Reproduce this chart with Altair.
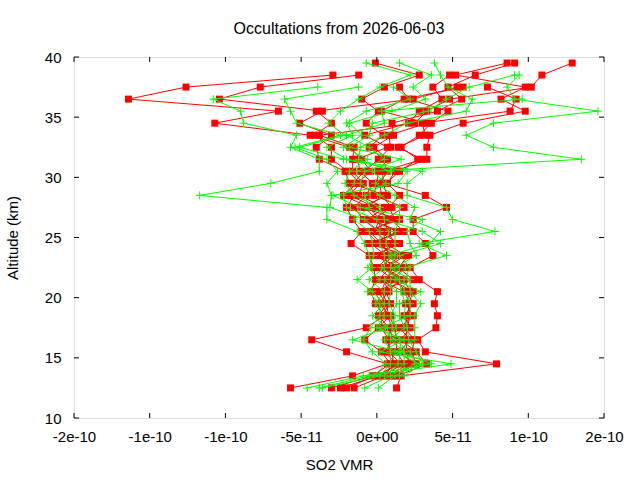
import altair as alt
import pandas as pd

# Altitude grid (km)
altitudes = [12.5, 13.5, 14.5, 15.5, 16.5, 17.5, 18.5, 19.5, 20.5, 21.5,
             22.5, 23.5, 24.5, 25.5, 26.5, 27.5, 28.5, 29.5, 30.5, 31.5,
             32.5, 33.5, 34.5, 35.5, 36.5, 37.5, 38.5, 39.5]

# SO2 VMR in units of 1e-11; one row per altitude, one column per profile
N = None
red_rows = [
    [-2.4, -5.7, N, 1.3, -3.0, N, -1.5, N, -2.0, N, N],            # 12.5
    [0.1, -1.6, 1.0, 1.6, -0.3, 1.4, 0.5, 1.2, -0.1, 0.8, 0.3],     # 13.5
    [1.3, 0.7, 2.4, 7.9, 0.9, 3.3, 1.1, 2.6, 1.6, 2.1, 1.8],        # 14.5
    [0.5, -2.0, 1.5, 3.2, 0.3, 2.6, 1.0, 2.3, 0.8, 2.0, 1.3],       # 15.5
    [1.1, -4.3, 2.2, 2.7, -0.8, 1.6, 0.6, 2.5, 0.8, 1.9, 1.3],      # 16.5
    [0.8, -0.7, 1.5, 3.9, 0.1, 2.2, 1.0, 1.8, 0.3, 2.0, 1.2],       # 17.5
    [0.1, 0.5, 2.4, 4.0, 0.9, 1.8, 0.7, 2.0, 0.3, 2.2, 0.8],        # 18.5
    [0.7, -0.1, 1.9, 3.8, 0.1, 2.4, 0.4, 2.2, 0.9, 2.1, 0.6],       # 19.5
    [0.3, -0.4, 2.2, 4.0, 0.8, 2.0, -0.2, 1.8, 0.6, 2.4, 0.1],      # 20.5
    [0.6, -0.1, 1.8, 2.8, 0.4, 1.1, 2.4, 0.1, 1.6, 0.9, 1.4],       # 21.5
    [1.1, -0.2, 0.5, 2.2, 1.6, 0.0, 1.4, 0.9, 0.3, 1.9, 0.6],       # 22.5
    [0.3, -0.5, 1.6, 3.7, -0.2, 0.9, 2.1, 0.1, 1.1, 0.6, 1.9],      # 23.5
    [0.9, -1.7, -0.1, 3.2, 1.5, 0.3, -0.6, 1.2, 0.1, -0.4, 0.6],    # 24.5
    [-0.2, -1.0, 1.3, 2.4, 0.1, -0.5, 1.8, 0.7, -0.7, 1.6, 0.4],    # 25.5
    [0.2, -1.6, -0.3, 2.4, -0.9, 1.2, 0.9, 0.5, 1.5, -0.6, 0.0],    # 26.5
    [-0.5, -2.0, 1.0, 4.6, -1.5, 0.8, -0.1, 1.8, -1.0, 0.5, -0.8],  # 27.5
    [-2.2, -1.5, 0.3, 3.2, -0.7, 1.5, -1.8, -0.2, 0.7, -1.2, 0.5],  # 28.5
    [-1.3, -1.8, 0.2, 0.6, -0.3, 0.7, -1.1, 0.0, 0.4, -0.9, -1.6],  # 29.5
    [-0.4, -2.1, 0.7, 1.5, -1.1, 1.2, -1.9, 0.1, 0.4, -1.6, -0.8],  # 30.5
    [-1.0, -3.8, 0.4, 2.7, -1.3, 3.3, -3.0, 0.7, 3.0, -1.6, 0.1],   # 31.5
    [-1.8, -4.0, -0.5, 1.6, 0.7, 3.3, -3.0, -0.2, 1.4, -1.5, 0.9],  # 32.5
    [-4.4, -3.0, 0.4, 2.8, -0.8, 3.5, -4.1, 1.1, 3.2, -3.8, 0.8],   # 33.5
    [-10.7, -5.1, -0.7, 3.6, 2.1, 5.7, -3.0, 1.0, 3.0, 2.5, 3.3],   # 34.5
    [-6.5, -3.6, 0.1, 4.7, 2.8, 9.8, -4.0, 4.0, 8.8, 3.3, 0.3],     # 35.5
    [-16.4, -10.4, -1.0, 2.1, 4.3, 8.2, 2.4, 5.6, 9.2, 4.8, 1.8],   # 36.5
    [-12.6, -7.7, 0.5, 1.5, 3.7, 9.8, 5.3, 4.7, 7.3, 10.2, 5.7],    # 37.5
    [-2.9, -1.2, 2.8, N, 4.8, 5.2, N, 6.5, N, 10.9, N],             # 38.5
    [N, N, -0.1, N, N, 8.6, N, 9.1, N, 12.9, N],                    # 39.5
]

green_rows = [
    [-4.6, -3.8, -3.6, -0.8, 0.1, N, N, N, N],         # 12.5
    [-0.9, -0.5, 0.2, 0.9, 1.2, 1.5, 0.5, -0.2, 1.8],  # 13.5
    [3.6, 4.9, 0.9, 1.8, 2.5, 2.8, 1.4, 0.6, 3.0],     # 14.5
    [1.5, 0.2, 0.9, 1.8, 2.2, 1.2, 1.6, -0.3, 2.6],    # 15.5
    [-1.6, 1.8, 0.5, 0.9, 1.2, 2.5, 1.5, -0.9, 2.1],   # 16.5
    [0.7, 0.0, 1.3, 1.8, 0.2, 2.5, 1.0, -0.4, 2.0],    # 17.5
    [-0.3, 0.5, 0.9, 1.5, 2.2, 2.5, 1.2, 0.2, 1.8],    # 18.5
    [0.5, -0.1, 1.3, 1.5, 2.2, 2.9, 0.8, 0.2, 1.9],    # 19.5
    [-0.3, 0.5, 1.3, 2.9, 1.8, 2.2, 0.9, -0.6, 1.6],   # 20.5
    [-1.3, -0.5, 0.5, 1.2, 1.8, 2.2, 0.9, 0.2, 1.5],   # 21.5
    [-0.3, 0.5, 1.2, 1.9, 2.2, 0.9, 1.5, -0.6, 0.3],   # 22.5
    [-0.5, 0.5, 2.6, 4.6, 1.5, 1.2, 0.8, -0.2, 1.0],   # 23.5
    [-0.8, 0.2, 2.2, 2.8, 4.2, 1.2, 3.5, -0.3, 0.6],   # 24.5
    [-1.3, 0.2, 2.0, 7.8, 3.0, 1.2, 4.2, -0.5, 0.8],   # 25.5
    [-3.3, -0.8, 3.0, 5.0, 0.5, 1.5, 2.2, -1.5, 0.0],  # 26.5
    [-3.3, -3.1, -1.1, 4.6, 0.2, 1.5, 2.5, -0.5, -2.0],  # 27.5
    [-11.7, -3.0, -2.9, 2.0, -1.5, 0.2, 1.2, -0.8, -2.2],  # 28.5
    [-7.0, -3.3, 1.4, 2.0, -2.1, -1.1, -0.1, 0.6, -1.5],   # 29.5
    [-3.8, -2.6, 2.0, 3.0, -1.8, -0.8, 0.9, -0.3, -1.3],   # 30.5
    [-3.8, -3.3, -2.2, -2.0, -0.6, 1.6, -1.2, 13.5, 0.5],  # 31.5
    [-5.7, -5.4, -5.1, -3.3, -2.2, -1.8, -1.1, 7.7, -0.5], # 32.5
    [-5.3, -2.4, -2.1, -1.6, -1.0, -0.5, 0.5, 5.9, -2.0],  # 33.5
    [-8.8, -5.3, -3.2, -2.0, -1.8, -0.3, 2.0, 7.7, 0.5],   # 34.5
    [-9.0, -5.7, -2.4, -0.7, 1.0, 3.4, 5.9, 14.6, 0.3],    # 35.5
    [-10.8, -6.1, -1.2, 2.2, 3.2, 4.6, 6.3, 9.1, 9.6],     # 36.5
    [-3.9, -1.2, 0.2, 1.1, 2.4, 6.1, 4.7, 8.6, N],         # 37.5
    [N, N, 2.2, N, 3.6, 9.1, 4.2, 9.4, N],                 # 38.5
    [N, N, -0.7, N, 1.5, N, 3.8, N, N],                    # 39.5
]

x_tick_values = [-20, -15, -10, -5, 0, 5, 10, 15]
x_tick_labels = ["-2e-10", "-1e-10", "-1e-10", "-5e-11", "0e+00", "5e-11", "1e-10", "2e-10"]
y_tick_values = [10, 15, 20, 25, 30, 35, 40]

title_text = "Occultations from 2026-06-03"
x_title = "SO2 VMR"
y_title = "Altitude (km)"


def to_long(rows, series):
    recs = []
    for a, row in zip(altitudes, rows):
        for p, v in enumerate(row):
            if v is not None:
                recs.append({"profile": f"{series}{p}", "alt": a, "vmr": v})
    return pd.DataFrame(recs)


red_df = to_long(red_rows, "r")
green_df = to_long(green_rows, "g")
xt_df = pd.DataFrame({"vmr": x_tick_values})
yt_df = pd.DataFrame({"alt": y_tick_values})

W, H = 530, 361
FONT = "Liberation Sans"
FS = 15

label_expr = " : ".join(
    f"datum.value == {v} ? '{l}'" for v, l in zip(x_tick_values, x_tick_labels)
) + " : ''"

xs = alt.Scale(domain=[-20, 15], nice=False, zero=False)
ys = alt.Scale(domain=[10, 40], nice=False, zero=False)

x_axis = alt.Axis(values=x_tick_values, labelExpr=label_expr, ticks=False,
                  domain=False, grid=False, labelPadding=11, title=x_title,
                  titlePadding=13, labelFont=FONT, labelFontSize=FS,
                  titleFont=FONT, titleFontSize=FS, titleFontWeight="normal",
                  labelColor="black", titleColor="black", labelFlush=False)
y_axis = alt.Axis(values=y_tick_values, ticks=False, domain=False, grid=False,
                  labelPadding=13, title=y_title, titlePadding=24,
                  labelFont=FONT, labelFontSize=FS, titleFont=FONT,
                  titleFontSize=FS, titleFontWeight="normal",
                  labelColor="black", titleColor="black", labelFlush=False)

X = alt.X("vmr:Q", scale=xs, axis=x_axis)
Y = alt.Y("alt:Q", scale=ys, axis=y_axis)

red_line = alt.Chart(red_df).mark_line(color="#ff0000", strokeWidth=1).encode(
    x=X, y=Y, detail="profile:N", order="alt:Q")
red_pts = alt.Chart(red_df).mark_point(
    shape="square", filled=True, size=49, color="#ff0000", opacity=1
).encode(x=X, y=Y)
green_line = alt.Chart(green_df).mark_line(color="#00ff00", strokeWidth=1).encode(
    x=X, y=Y, detail="profile:N", order="alt:Q")
green_pts = alt.Chart(green_df).mark_point(
    shape="M-1,0L1,0M0,-1L0,1", filled=False, size=64, color="#00ff00",
    strokeWidth=1, opacity=1
).encode(x=X, y=Y)

tick_len = 5
bottom_ticks = alt.Chart(xt_df).mark_rule(color="black", strokeWidth=1).encode(
    x=X, y=alt.value(H), y2=alt.value(H - tick_len))
top_ticks = alt.Chart(xt_df).mark_rule(color="black", strokeWidth=1).encode(
    x=X, y=alt.value(0), y2=alt.value(tick_len))
left_ticks = alt.Chart(yt_df).mark_rule(color="black", strokeWidth=1).encode(
    y=Y, x=alt.value(0), x2=alt.value(tick_len))
right_ticks = alt.Chart(yt_df).mark_rule(color="black", strokeWidth=1).encode(
    y=Y, x=alt.value(W), x2=alt.value(W - tick_len))

chart = alt.layer(
    red_line, red_pts, green_line, green_pts,
    bottom_ticks, top_ticks, left_ticks, right_ticks
).properties(
    width=W, height=H,
    title=alt.TitleParams(title_text, font=FONT, fontSize=16, fontWeight="normal",
                          color="black", anchor="middle", offset=13),
    autosize=alt.AutoSizeParams(type="none"),
    padding={"left": 74, "top": 57, "right": 640 - 74 - W, "bottom": 480 - 57 - H},
).configure_view(stroke="black", strokeWidth=1).configure(background="white")

chart.save("out.html", embed_options={"renderer": "svg", "actions": False})
